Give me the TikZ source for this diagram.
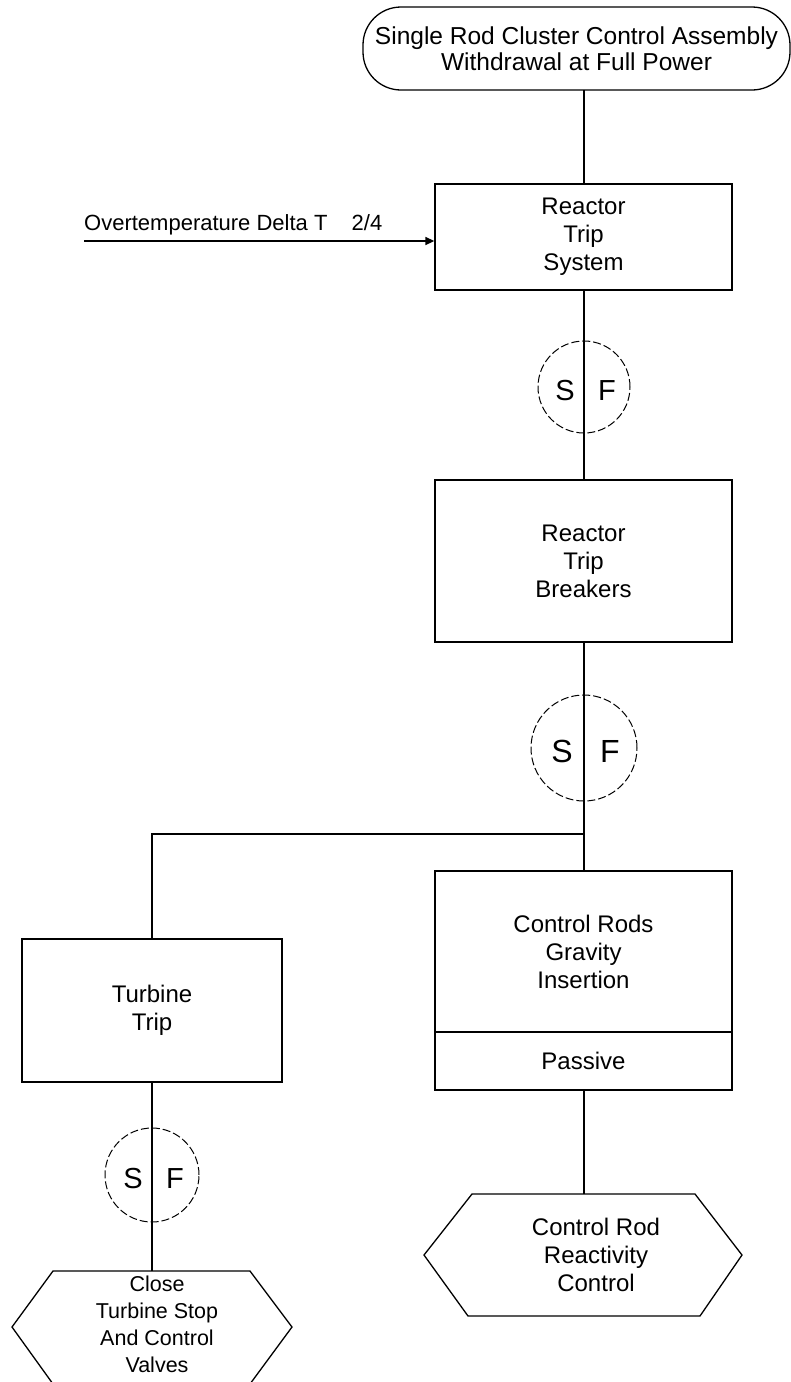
\documentclass[tikz,border=0pt]{standalone}
\usepackage{fontspec}
\setmainfont{Liberation Sans}
\usetikzlibrary{arrows.meta}
\begin{document}
\begin{tikzpicture}[x=1pt,y=-1pt,
  box/.style={draw,line width=1.3pt,minimum width=297pt,inner sep=0pt,align=center,
    font=\fontsize{24}{28}\selectfont},
  link/.style={line width=1.7pt},
  sfc/.style={circle,draw,dash pattern=on 8pt off 3pt,line width=1pt,inner sep=0pt},
  sfl/.style={inner sep=0pt,font=\fontsize{29}{32}\selectfont},
  hexa/.style={line width=1.3pt,line join=miter},
  txt/.style={inner sep=0pt,align=center,font=\fontsize{24}{28}\selectfont}]
\useasboundingbox (0,0) rectangle (791,1382);

% top terminator
\node[box,rounded corners=38pt,minimum width=427pt,minimum height=83pt,
  font=\fontsize{24.5}{26.5}\selectfont] (top) at (576.5,48.5)
  {Single Rod Cluster Control Assembly\\Withdrawal at Full Power};

% boxes
\node[box,minimum height=106pt] (rts) at (583.5,237) {Reactor\\Trip\\System};
\node[box,minimum height=162pt] (rtb) at (583.5,561) {Reactor\\Trip\\Breakers};
\node[box,minimum height=161pt] (cr) at (583.5,951.5) {Control Rods\\Gravity\\Insertion};
\node[box,minimum height=58pt] (pas) at (583.5,1061) {Passive};
\node[box,minimum width=260pt,minimum height=143pt] (tt) at (152,1010.5) {Turbine\\Trip};

% S/F circles
\node[sfc,minimum size=92pt] (sf1) at (584,387) {};
\node[sfl] (s1) at (565,391) {S};
\node[sfl] (f1) at (607,391) {F};
\node[sfc,minimum size=106pt] (sf2) at (584,748) {};
\node[sfl,font=\fontsize{32}{34}\selectfont] (s2) at (562,751.5) {S};
\node[sfl,font=\fontsize{32}{34}\selectfont] (f2) at (610,751.5) {F};
\node[sfc,minimum size=94pt] (sf3) at (152,1175) {};
\node[sfl] (s3) at (133,1179) {S};
\node[sfl] (f3) at (175,1179) {F};

% hexagons
\draw[hexa] (472,1194) -- (695,1194) -- (742,1255) -- (700,1316) -- (468,1316) -- (424,1255) -- cycle;
\coordinate (hexRtop) at (584,1194);
\node[txt] (hexR) at (596,1255) {Control Rod\\Reactivity\\Control};

\draw[hexa] (53,1271) -- (250,1271) -- (292,1327) -- (250,1384) -- (53,1384) -- (12,1327) -- cycle;
\coordinate (hexLtop) at (152,1271);
\node[txt,font=\fontsize{21.5}{27}\selectfont] (hexL) at (157,1324) {Close\\Turbine Stop\\And Control\\Valves};

% input signal
\coordinate (insrc) at (84,241);
\node[inner sep=0pt,anchor=base west,font=\fontsize{22}{26}\selectfont] (inlbl) at (84,230)
  {Overtemperature Delta T\hspace{1.1em}2/4};
\draw[link,line width=1.5pt,-{Triangle[length=9pt,width=8pt]}] (insrc) -- (insrc -| rts.west);

% connectors
\draw[link] (584,90) -- (584,184);
\draw[link] (sf1.north |- rts.south) -- (sf1.north |- rtb.north);
\draw[link] (sf2.north |- rtb.south) -- (sf2.north |- cr.north);
\coordinate (junc) at (584,834);
\draw[link] (junc) -| (tt.north);
\draw[link] (tt.south) -- (hexLtop);
\draw[link] (sf2.north |- pas.south) -- (hexRtop);
\end{tikzpicture}
\end{document}
